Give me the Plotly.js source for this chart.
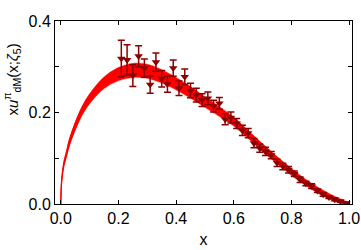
<!DOCTYPE html>
<html>
<head>
<meta charset="utf-8">
<script src="https://cdn.plot.ly/plotly-3.0.1.min.js"></script>
<style>html,body{margin:0;padding:0;background:#fff;}#chart{width:361px;height:250px;}</style>
</head>
<body>
<div id="chart"></div>
<script>
// Band (theory curve) values
const bandX = [0, 0.003, 0.01, 0.02, 0.03, 0.05, 0.075, 0.1, 0.15, 0.2, 0.25, 0.3, 0.35, 0.4, 0.45, 0.5, 0.55, 0.6, 0.65, 0.7, 0.75, 0.8, 0.85, 0.9, 0.95, 1.0];
const bandCenter = [0, 0.05, 0.085, 0.11, 0.135, 0.17, 0.205, 0.23, 0.265, 0.284, 0.292, 0.29, 0.279, 0.263, 0.244, 0.223, 0.202, 0.18, 0.152, 0.123, 0.096, 0.07, 0.047, 0.027, 0.011, 0];
const bandHalf = [0, 0.003, 0.004, 0.005, 0.006, 0.007, 0.008, 0.009, 0.011, 0.013, 0.014, 0.014, 0.013, 0.012, 0.011, 0.010, 0.009, 0.008, 0.007, 0.007, 0.006, 0.006, 0.005, 0.005, 0.004, 0.002];

// Data points
const dataX = [0.21, 0.23, 0.25, 0.27, 0.29, 0.31, 0.33, 0.35, 0.37, 0.39, 0.41, 0.43, 0.45, 0.47, 0.49, 0.51, 0.53, 0.55, 0.57, 0.59, 0.61, 0.63, 0.65, 0.67, 0.69, 0.71, 0.73, 0.75, 0.77, 0.79, 0.81, 0.83, 0.85, 0.87, 0.89, 0.91, 0.93, 0.95, 0.97, 0.99];
const dataY = [0.318, 0.315, 0.281, 0.323, 0.297, 0.261, 0.310, 0.274, 0.262, 0.297, 0.253, 0.278, 0.248, 0.238, 0.227, 0.231, 0.214, 0.220, 0.185, 0.189, 0.176, 0.161, 0.155, 0.133, 0.122, 0.115, 0.107, 0.090, 0.082, 0.075, 0.066, 0.053, 0.045, 0.039, 0.029, 0.021, 0.015, 0.010, 0.006, 0.002];
const dataErr = [0.040, 0.033, 0.024, 0.023, 0.020, 0.019, 0.020, 0.018, 0.018, 0.018, 0.016, 0.017, 0.016, 0.015, 0.014, 0.014, 0.013, 0.013, 0.012, 0.012, 0.011, 0.011, 0.010, 0.010, 0.009, 0.009, 0.008, 0.008, 0.007, 0.007, 0.006, 0.006, 0.005, 0.005, 0.004, 0.004, 0.003, 0.003, 0.002, 0.002];

const xTickVals = [0, 0.2, 0.4, 0.6, 0.8, 1.0];
const xTickText = ['0.0', '0.2', '0.4', '0.6', '0.8', '1.0'];
const yTickVals = [0, 0.2, 0.4];
const yTickText = ['0.0', '0.2', '0.4'];
const yTitle = 'x<i>u</i><sup>π</sup><sub>dM</sub>(x;<i>ζ</i><sub>5</sub>)';

const bandLow = bandCenter.map((c, i) => c - bandHalf[i]);
const bandHigh = bandCenter.map((c, i) => c + bandHalf[i]);
const glowLow = bandCenter.map((c, i) => c - bandHalf[i] - 0.003);
const glowHigh = bandCenter.map((c, i) => c + bandHalf[i] + 0.003);

const traces = [
  {x: bandX, y: glowLow, mode: 'lines', line: {color: 'rgba(255,0,0,0)', width: 0, shape: 'spline'}, hoverinfo: 'skip', showlegend: false},
  {x: bandX, y: glowHigh, mode: 'lines', fill: 'tonexty', fillcolor: 'rgba(255,0,0,0.35)', line: {color: 'rgba(255,0,0,0)', width: 0, shape: 'spline'}, hoverinfo: 'skip', showlegend: false},
  {x: bandX, y: bandLow, mode: 'lines', line: {color: '#ff0000', width: 1.2, shape: 'spline'}, hoverinfo: 'skip', showlegend: false},
  {x: bandX, y: bandHigh, mode: 'lines', fill: 'tonexty', fillcolor: '#ff0000', line: {color: '#ff0000', width: 1.2, shape: 'spline'}, hoverinfo: 'skip', showlegend: false},
  {x: dataX, y: dataY, mode: 'markers', showlegend: false,
   marker: {symbol: 'triangle-down', size: 7.5, color: '#8b0000'},
   error_y: {type: 'data', array: dataErr, visible: true, color: '#8b0000', thickness: 1.5, width: 3.5}}
];

const font = {family: '"Liberation Sans", Arial, Helvetica, sans-serif', size: 16, color: '#000'};

const layout = {
  width: 361, height: 250,
  margin: {l: 55, r: 9, t: 21, b: 46, pad: 0},
  paper_bgcolor: '#fff', plot_bgcolor: '#fff',
  font: font,
  xaxis: {
    range: [-0.02, 1.01], tickvals: xTickVals, ticktext: xTickText,
    ticks: 'inside', ticklen: 4, tickwidth: 1, tickcolor: '#000',
    showline: true, linecolor: '#000', linewidth: 1, mirror: 'allticks',
    showgrid: false, zeroline: false,
    tickfont: {size: 16},
    title: {text: 'x', font: {size: 16}, standoff: 7}
  },
  yaxis: {
    range: [0, 0.4], tickvals: yTickVals, ticktext: yTickText,
    ticks: 'inside', ticklen: 4, tickwidth: 1, tickcolor: '#000',
    showline: true, linecolor: '#000', linewidth: 1, mirror: 'allticks',
    showgrid: false, zeroline: false,
    minor: {tickvals: [0.1, 0.3], ticks: 'inside', ticklen: 4, tickcolor: '#000'},
    tickfont: {size: 16}
  },
  annotations: [{
    text: yTitle, xref: 'paper', yref: 'paper', x: -0.145, y: 0.68,
    xanchor: 'center', yanchor: 'middle', textangle: -90, showarrow: false,
    font: {size: 15, color: '#000'}
  }]
};

Plotly.newPlot('chart', traces, layout, {displayModeBar: false, staticPlot: true});
</script>
</body>
</html>
